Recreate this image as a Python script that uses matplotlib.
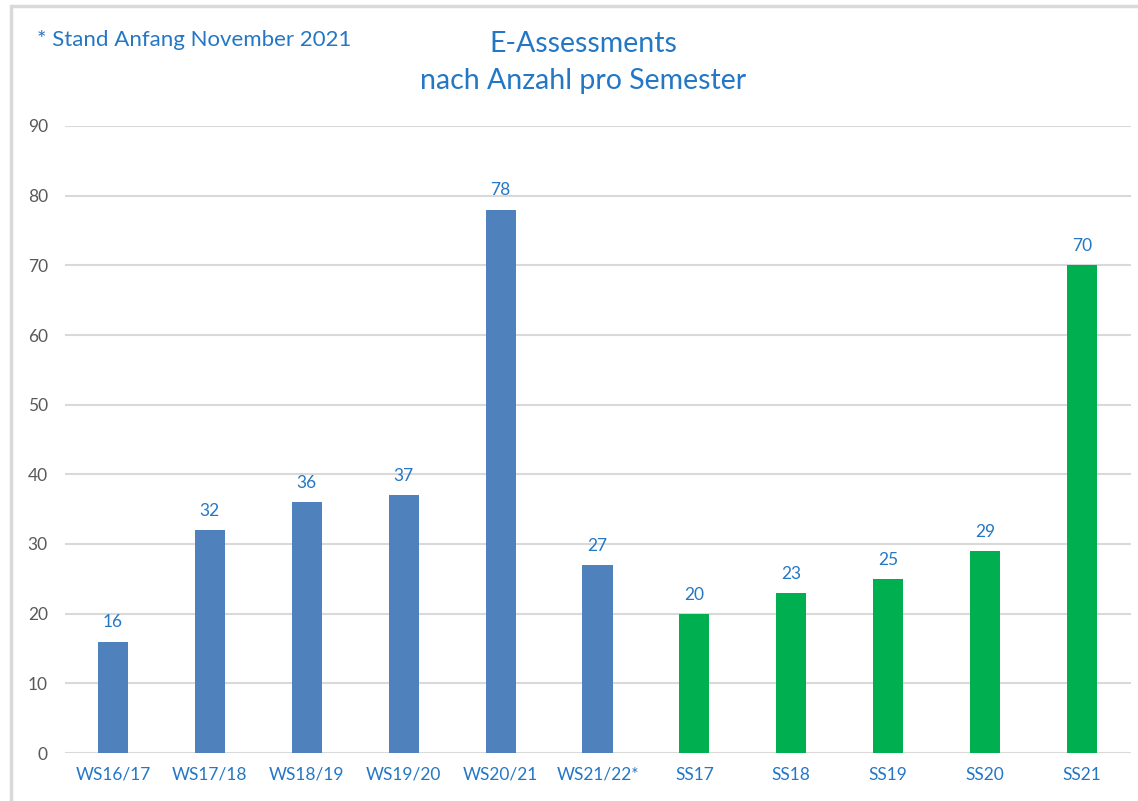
import matplotlib.pyplot as plt
from matplotlib.patches import Rectangle

# Daten
semester = ['WS16/17', 'WS17/18', 'WS18/19', 'WS19/20', 'WS20/21', 'WS21/22*',
            'SS17', 'SS18', 'SS19', 'SS20', 'SS21']
anzahl = [16, 32, 36, 37, 78, 27, 20, 23, 25, 29, 70]
farben = ['#4F81BD'] * 6 + ['#00B050'] * 5
y_ticks = list(range(0, 100, 10))

text_blau = '#2477C4'
plt.rcParams['font.family'] = ['Lato', 'DejaVu Sans']

fig = plt.figure(figsize=(11.38, 8.01), dpi=100)
W, H = 1138, 801

# rahmen um das diagramm (nur links und oben sichtbar)
fig.patches.append(Rectangle((11 / W, -0.1), 1.2, 0.1 + (H - 5.5) / H, transform=fig.transFigure,
                             fill=False, edgecolor='#D9D9D9', linewidth=2.5))

ax = fig.add_axes([64.5 / W, 48 / H, 1066 / W, 627 / H])
x = range(len(semester))
bars = ax.bar(x, anzahl, width=0.31, color=farben, zorder=3)

for i, v in enumerate(anzahl):
    ax.annotate(str(v), (i, v), xytext=(0, 8), textcoords='offset points',
                ha='center', va='bottom', color=text_blau, fontsize=12.5)

ax.set_xlim(-0.5, len(semester) - 0.5)
ax.set_ylim(0, 90)
ax.set_yticks(y_ticks)
ax.set_xticks(list(x))
ax.set_xticklabels(semester, color=text_blau, fontsize=12.5)
ax.tick_params(axis='y', colors='#595959', labelsize=12.5, length=0, pad=12)
ax.tick_params(axis='x', length=0, pad=10)
ax.grid(axis='y', color='#D9D9D9', linewidth=1.5, zorder=0)
for s in ax.spines.values():
    s.set_visible(False)

fig.text(583 / W, 1 - 44 / H, 'E-Assessments', ha='center', va='center',
         color=text_blau, fontsize=20.5)
fig.text(583 / W, 1 - 81 / H, 'nach Anzahl pro Semester', ha='center', va='center',
         color=text_blau, fontsize=20.5)
fig.text(37 / W, 1 - 40 / H, '* Stand Anfang November 2021', ha='left', va='center',
         color=text_blau, fontsize=16)

fig.savefig('out.png', dpi=100)
